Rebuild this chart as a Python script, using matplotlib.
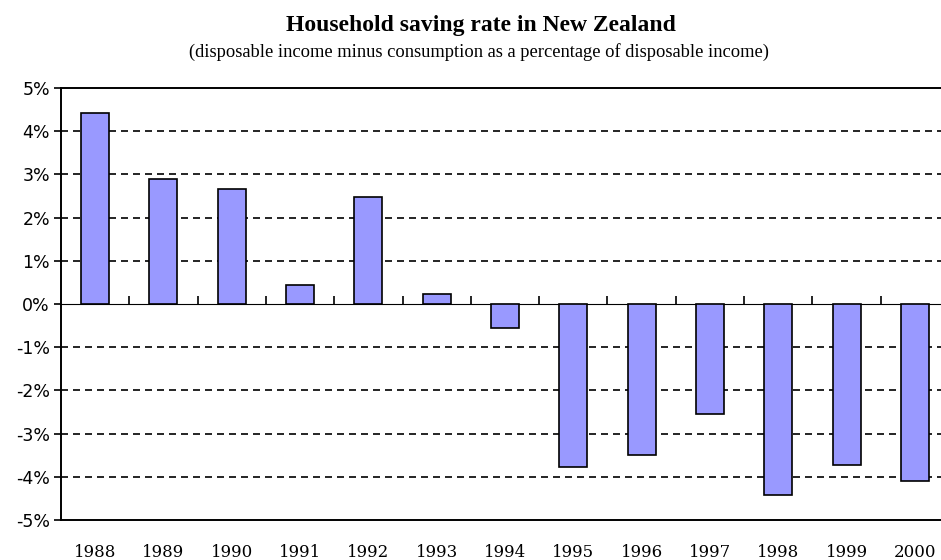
import matplotlib
matplotlib.use('Agg')
import matplotlib.pyplot as plt
from matplotlib.ticker import FuncFormatter, MultipleLocator

# --- Data ---
years = ["1988", "1989", "1990", "1991", "1992", "1993", "1994",
         "1995", "1996", "1997", "1998", "1999", "2000"]
saving_rate = [4.42, 2.89, 2.66, 0.44, 2.48, 0.22, -0.55,
               -3.77, -3.50, -2.55, -4.42, -3.73, -4.10]

BAR_COLOR = "#9999ff"

fig = plt.figure(figsize=(9.41, 5.6), dpi=100)
ax = fig.add_axes([61 / 941, 40 / 560, 888 / 941, 432 / 560])

x = list(range(len(years)))
ax.bar(x, saving_rate, width=0.41, color=BAR_COLOR, edgecolor="black",
       linewidth=1.2, zorder=3)

ax.set_xlim(-0.5, len(years) - 0.5)
ax.set_ylim(-5, 5)

# dashed gridlines at each whole percent (not at 0 / borders)
ax.yaxis.set_major_locator(MultipleLocator(1))
for v in range(-4, 5):
    if v != 0:
        ax.axhline(v, color="black", lw=1.2, ls=(0, (4.2, 3)), zorder=1)

ax.yaxis.set_major_formatter(FuncFormatter(lambda v, _: f"{v:.0f}%"))
ax.tick_params(axis="y", direction="out", length=5, width=1.2,
               labelsize=12.5, pad=3)
for lab in ax.get_yticklabels():
    lab.set_fontfamily("DejaVu Sans")

ax.set_xticks(x)
ax.set_xticklabels(years, fontfamily="DejaVu Serif", fontsize=12)
ax.tick_params(axis="x", length=0, pad=17)

for s in ["left", "bottom", "top", "right"]:
    ax.spines[s].set_linewidth(1.4)

# zero line with category-boundary ticks
sec = ax.secondary_xaxis(0.5)
sec.set_xticks([i + 0.5 for i in x[:-1]])
sec.set_xticklabels([])
sec.tick_params(axis="x", direction="out", length=6, width=1.2)
sec.spines["bottom"].set_linewidth(1.4)

fig.text(0.511, 1 - 25 / 560, "Household saving rate in New Zealand",
         ha="center", va="center", fontfamily="Liberation Serif",
         fontweight="bold", fontsize=17)
fig.text(0.509, 1 - 52 / 560,
         "(disposable income minus consumption as a percentage of disposable income)",
         ha="center", va="center", fontfamily="Liberation Serif", fontsize=13.3)

fig.savefig("out.png", dpi=100)
